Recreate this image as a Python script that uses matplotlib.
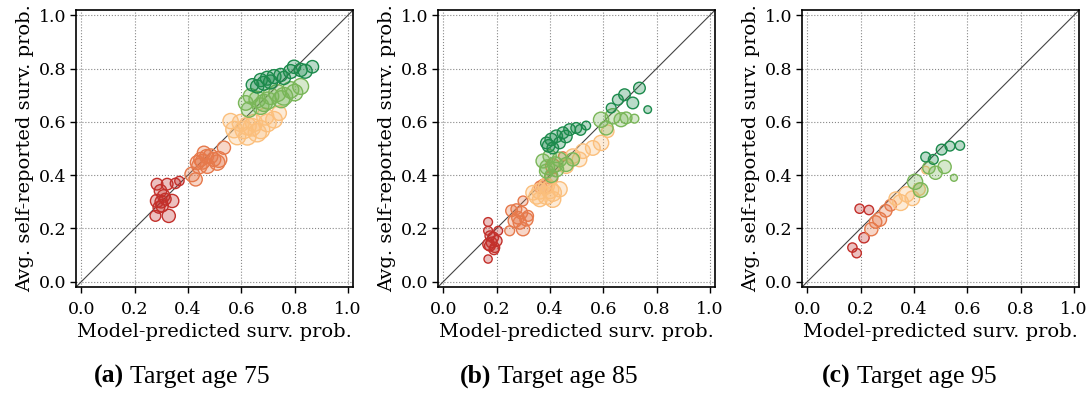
"""Calibration of self-reported vs model-predicted survival probabilities."""

import matplotlib
matplotlib.use("Agg")
import matplotlib.pyplot as plt
from matplotlib.colors import to_rgba

plt.rcParams["font.family"] = ["DejaVu Serif"]

COLORS = ["#c3302b", "#e6794b", "#fbbf7c", "#79b658", "#1c8a4c"]
CAPTIONS = [("(a)", "Target age 75"), ("(b)", "Target age 85"), ("(c)", "Target age 95")]

# ---------------- panel (a): target age 75 ----------------
a_red_x = [0.284, 0.322, 0.353, 0.368, 0.297, 0.284, 0.303, 0.341, 0.278, 0.328, 0.309, 0.291, 0.30, 0.315]
a_red_y = [0.366, 0.366, 0.369, 0.378, 0.341, 0.303, 0.285, 0.303, 0.247, 0.247, 0.322, 0.279, 0.30, 0.31]
a_red_s = [70, 70, 55, 45, 80, 90, 80, 90, 60, 90, 80, 70, 80, 70]

a_org_x = [0.429, 0.435, 0.46, 0.485, 0.51, 0.535, 0.473, 0.497, 0.516, 0.448, 0.416, 0.443, 0.47, 0.455]
a_org_y = [0.384, 0.447, 0.484, 0.471, 0.447, 0.503, 0.434, 0.459, 0.459, 0.459, 0.403, 0.434, 0.47, 0.45]
a_org_s = [90, 100, 90, 110, 120, 90, 110, 100, 130, 100, 110, 120, 100, 110]

a_lor_x = [0.573, 0.598, 0.623, 0.648, 0.673, 0.698, 0.723, 0.742, 0.585, 0.623, 0.66, 0.56, 0.61, 0.69, 0.64]
a_lor_y = [0.571, 0.596, 0.584, 0.596, 0.571, 0.596, 0.608, 0.633, 0.546, 0.546, 0.559, 0.603, 0.57, 0.62, 0.58]
a_lor_s = [140, 150, 160, 150, 170, 160, 140, 110, 150, 160, 170, 120, 160, 150, 160]

a_lgr_x = [0.617, 0.636, 0.66, 0.685, 0.71, 0.735, 0.76, 0.785, 0.823, 0.629, 0.673, 0.70, 0.75, 0.80]
a_lgr_y = [0.671, 0.696, 0.684, 0.671, 0.696, 0.708, 0.696, 0.72, 0.733, 0.646, 0.659, 0.68, 0.685, 0.71]
a_lgr_s = [110, 120, 140, 150, 140, 150, 160, 140, 130, 120, 140, 150, 150, 140]

a_dgr_x = [0.642, 0.673, 0.698, 0.723, 0.748, 0.785, 0.823, 0.867, 0.66, 0.685, 0.798, 0.71, 0.76, 0.84]
a_dgr_y = [0.739, 0.757, 0.764, 0.77, 0.776, 0.789, 0.795, 0.807, 0.733, 0.745, 0.807, 0.75, 0.765, 0.79]
a_dgr_s = [80, 90, 100, 100, 90, 100, 90, 80, 90, 100, 90, 100, 90, 100]

# ---------------- panel (b): target age 85 ----------------
b_red_x = [0.168, 0.168, 0.175, 0.181, 0.193, 0.168, 0.206, 0.20, 0.175, 0.187, 0.17, 0.19]
b_red_y = [0.224, 0.191, 0.172, 0.147, 0.128, 0.085, 0.191, 0.153, 0.135, 0.166, 0.14, 0.12]
b_red_s = [40, 40, 50, 60, 50, 35, 40, 60, 60, 60, 70, 50]

b_org_x = [0.256, 0.274, 0.299, 0.293, 0.312, 0.268, 0.249, 0.299, 0.318, 0.287, 0.38, 0.405, 0.449, 0.411, 0.365, 0.28]
b_org_y = [0.266, 0.272, 0.303, 0.259, 0.234, 0.228, 0.191, 0.197, 0.247, 0.222, 0.359, 0.39, 0.471, 0.434, 0.355, 0.24]
b_org_s = [70, 60, 50, 80, 90, 90, 50, 90, 60, 90, 110, 90, 40, 110, 80, 80]

b_lor_x = [0.337, 0.362, 0.387, 0.411, 0.436, 0.387, 0.362, 0.411, 0.486, 0.524, 0.561, 0.592, 0.511, 0.617, 0.461, 0.35, 0.40]
b_lor_y = [0.334, 0.34, 0.322, 0.334, 0.347, 0.359, 0.309, 0.309, 0.471, 0.49, 0.502, 0.521, 0.459, 0.565, 0.434, 0.32, 0.345]
b_lor_s = [110, 130, 150, 150, 120, 130, 110, 130, 110, 110, 110, 120, 110, 80, 110, 120, 160]

b_lgr_x = [0.374, 0.399, 0.387, 0.424, 0.461, 0.486, 0.436, 0.405, 0.592, 0.636, 0.667, 0.686, 0.717, 0.611, 0.42, 0.39]
b_lgr_y = [0.453, 0.471, 0.415, 0.421, 0.44, 0.459, 0.459, 0.397, 0.608, 0.621, 0.608, 0.615, 0.612, 0.577, 0.44, 0.43]
b_lgr_s = [100, 90, 100, 110, 100, 90, 110, 90, 120, 120, 100, 70, 40, 100, 120, 110]

b_dgr_x = [0.387, 0.405, 0.424, 0.449, 0.474, 0.499, 0.536, 0.411, 0.436, 0.63, 0.655, 0.68, 0.736, 0.711, 0.767, 0.46, 0.395, 0.515]
b_dgr_y = [0.521, 0.534, 0.546, 0.559, 0.571, 0.577, 0.586, 0.502, 0.521, 0.652, 0.683, 0.702, 0.727, 0.671, 0.646, 0.545, 0.51, 0.57]
b_dgr_s = [70, 80, 80, 70, 70, 60, 40, 70, 70, 50, 60, 70, 70, 70, 30, 80, 80, 60]

# ---------------- panel (c): target age 95 ----------------
c_red_x = [0.196, 0.231, 0.2125, 0.169, 0.185]
c_red_y = [0.274, 0.269, 0.165, 0.128, 0.107]
c_red_s = [45, 45, 55, 45, 45]

c_org_x = [0.24, 0.256, 0.271, 0.294, 0.3125]
c_org_y = [0.197, 0.224, 0.234, 0.266, 0.287]
c_org_s = [90, 80, 100, 80, 70]

c_lor_x = [0.331, 0.35, 0.3725, 0.394, 0.419, 0.444]
c_lor_y = [0.312, 0.297, 0.328, 0.313, 0.347, 0.419]
c_lor_s = [90, 130, 120, 110, 80, 30]

c_lgr_x = [0.404, 0.425, 0.456, 0.481, 0.515, 0.55]
c_lgr_y = [0.375, 0.344, 0.428, 0.409, 0.431, 0.39]
c_lgr_s = [120, 110, 80, 90, 90, 25]

c_dgr_x = [0.444, 0.4725, 0.504, 0.535, 0.5725]
c_dgr_y = [0.468, 0.459, 0.496, 0.509, 0.511]
c_dgr_s = [50, 50, 60, 50, 45]

panels = [
    [(a_red_x, a_red_y, a_red_s), (a_org_x, a_org_y, a_org_s), (a_lor_x, a_lor_y, a_lor_s),
     (a_lgr_x, a_lgr_y, a_lgr_s), (a_dgr_x, a_dgr_y, a_dgr_s)],
    [(b_red_x, b_red_y, b_red_s), (b_org_x, b_org_y, b_org_s), (b_lor_x, b_lor_y, b_lor_s),
     (b_lgr_x, b_lgr_y, b_lgr_s), (b_dgr_x, b_dgr_y, b_dgr_s)],
    [(c_red_x, c_red_y, c_red_s), (c_org_x, c_org_y, c_org_s), (c_lor_x, c_lor_y, c_lor_s),
     (c_lgr_x, c_lgr_y, c_lgr_s), (c_dgr_x, c_dgr_y, c_dgr_s)],
]

fig = plt.figure(figsize=(10.89, 3.94), dpi=100)
lefts = [0.0698, 0.4022, 0.7365]
cap_centers = [0.167, 0.504, 0.835]
ticks = [0.0, 0.2, 0.4, 0.6, 0.8, 1.0]

cap_texts = []
for i, groups in enumerate(panels):
    ax = fig.add_axes([lefts[i], 0.2716, 0.2545, 0.703])
    for (x, y, s), c in zip(groups, COLORS):
        ax.scatter(x, y, s=s, facecolor=to_rgba(c, 0.3), edgecolor=c, linewidth=1.0, zorder=3)
    ax.axline((0, 0), (1, 1), color="#444444", linewidth=0.8, zorder=2)
    ax.set_xlim(-0.02, 1.02)
    ax.set_ylim(-0.02, 1.02)
    ax.set_xticks(ticks)
    ax.set_yticks(ticks)
    ax.grid(True, linestyle=":", color="#888888", linewidth=0.8, zorder=0)
    ax.set_axisbelow(True)
    ax.tick_params(labelsize=12.5, direction="out", length=4, width=1, pad=3)
    ax.tick_params(axis="x", pad=6)
    for sp in ax.spines.values():
        sp.set_linewidth(1.2)
    ax.set_xlabel("Model-predicted surv. prob.", fontsize=14, labelpad=4)
    ax.set_ylabel("Avg. self-reported surv. prob.", fontsize=14, labelpad=3)

    lab, txt = CAPTIONS[i]
    t1 = fig.text(0, 0.044, lab, ha="left", va="center", fontsize=18.5,
                  family="Liberation Serif", fontweight="bold")
    t2 = fig.text(0, 0.044, " " + txt, ha="left", va="center", fontsize=18.5,
                  family="Liberation Serif")
    cap_texts.append((t1, t2))

# centre each two-part caption under its panel
fig.canvas.draw()
r = fig.canvas.get_renderer()
W = fig.bbox.width
for (t1, t2), cx in zip(cap_texts, cap_centers):
    w1 = t1.get_window_extent(r).width / W
    w2 = t2.get_window_extent(r).width / W
    x0 = cx - (w1 + w2) / 2
    t1.set_x(x0)
    t2.set_x(x0 + w1)

fig.savefig("out.png", dpi=100)
plt.close(fig)
